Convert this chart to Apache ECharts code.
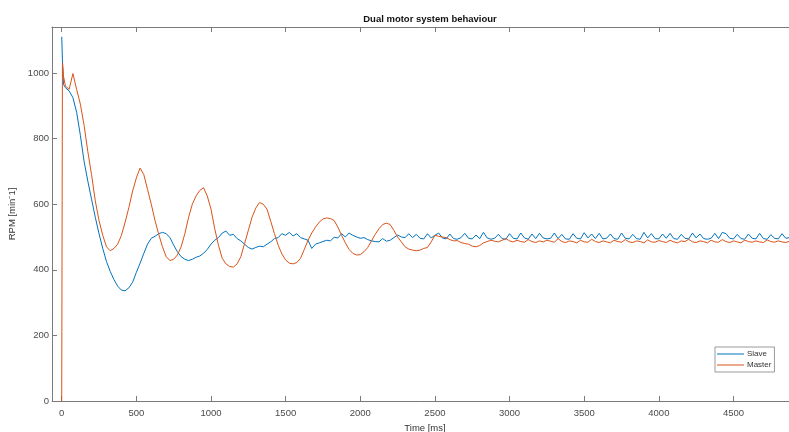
<!DOCTYPE html>
<html>
<head>
<meta charset="utf-8">
<script src="https://cdn.jsdelivr.net/npm/echarts@6/dist/echarts.min.js"></script>
<style>html,body{margin:0;padding:0;background:#fff}#c{width:789px;height:432px}</style>
</head>
<body>
<div id="c"></div>
<script>
// ---- data ----
// time samples [ms]: 0, 5, 12, then every 25 ms up to 4875
const time = [0, 5, 12];
for (let t = 25; t <= 4875; t += 25) time.push(t);

const slave = [
  1110, 1040, 965,
  // 25..500
  955, 945, 925, 880, 810, 730, 670, 615, 560, 510, 465, 425, 395, 370, 350, 338, 336, 345, 362, 392,
  // 525..1000
  420, 450, 478, 496, 502, 510, 514, 510, 498, 475, 455, 440, 432, 428, 432, 438, 442, 450, 462, 478,
  // 1025..1500
  490, 498, 512, 518, 505, 508, 495, 488, 478, 468, 463, 468, 472, 470, 478, 485, 495, 498, 510, 505,
  // 1525..2000
  514, 503, 510, 498, 494, 490, 465, 478, 482, 486, 490, 488, 499, 497, 510, 500, 512, 505, 500, 496,
  // 2025..2500
  498, 492, 488, 486, 485, 495, 487, 490, 498, 506, 500, 498, 510, 498, 508, 496, 494, 510, 497, 505,
  // 2525..3000
  512, 497, 494, 509, 495, 493, 498, 511, 496, 494, 506, 495, 514, 497, 493, 496, 508, 495, 493, 510,
  // 3025..3500
  496, 494, 512, 497, 493, 509, 495, 511, 497, 494, 496, 512, 495, 508, 494, 493, 510, 496, 494, 513,
  // 3525..4000
  497, 509, 495, 511, 494, 496, 509, 495, 493, 512, 496, 494, 508, 495, 493, 514, 497, 510, 495, 494,
  // 4025..4500
  509, 496, 511, 495, 493, 508, 496, 494, 512, 497, 509, 495, 493, 496, 511, 495, 514, 510, 496, 494,
  // 4525..4875
  508, 495, 493, 509, 496, 494, 511, 495, 493, 507, 496, 494, 510, 496, 498
];

const master = [
  0, 1030, 990,
  // 25..500
  960, 950, 998, 950, 905, 840, 760, 690, 610, 550, 505, 470, 458, 465, 478, 505, 545, 590, 640, 680,
  // 525..1000
  710, 690, 645, 600, 550, 508, 470, 440, 428, 432, 445, 470, 510, 560, 600, 625, 642, 650, 625, 585,
  // 1025..1500
  525, 475, 435, 418, 410, 408, 418, 440, 480, 520, 560, 588, 605, 600, 585, 548, 510, 475, 448, 430,
  // 1525..2000
  420, 418, 422, 435, 462, 490, 512, 530, 545, 555, 558, 556, 550, 530, 505, 482, 462, 450, 445, 446,
  // 2025..2500
  455, 468, 488, 508, 525, 538, 542, 538, 520, 500, 485, 470, 463, 460, 458, 460, 465, 468, 485, 505,
  // 2525..3000
  502, 500, 498, 492, 488, 489, 483, 480, 478, 472, 470, 474, 482, 486, 490, 487, 485, 490, 495, 488,
  // 3025..3500
  485, 490, 486, 484, 492, 486, 483, 488, 485, 490, 487, 484, 495, 486, 483, 488, 486, 482, 490, 485,
  // 3525..4000
  484, 493, 486, 483, 488, 485, 482, 490, 486, 484, 492, 485, 483, 488, 486, 482, 491, 485, 484, 489,
  // 4025..4500
  486, 483, 490, 485, 482, 488, 486, 493, 485, 483, 488, 486, 482, 490, 485, 484, 492, 486, 483, 488,
  // 4525..4875
  485, 482, 490, 486, 484, 488, 485, 483, 491, 486, 484, 488, 485, 483, 487
];

const xTicks = [0, 500, 1000, 1500, 2000, 2500, 3000, 3500, 4000, 4500];
const yTicks = [0, 200, 400, 600, 800, 1000];

const seriesNames = ['Slave', 'Master'];
const seriesColors = ['#0072BD', '#D95319'];

// ---- chart ----
const chart = echarts.init(document.getElementById('c'), null, {renderer: 'canvas'});
const pairs = arr => time.map((t, i) => [t, arr[i]]);
const font = '"Liberation Sans", Arial, sans-serif';
const axisCol = '#7a7a7a';
const labCol = '#4a4a4a';
const plain = v => String(v);

chart.setOption({
  animation: false,
  backgroundColor: '#ffffff',
  title: {
    text: 'Dual motor system behaviour',
    left: 425, top: 9, textAlign: 'center',
    textStyle: {fontFamily: font, fontSize: 9.5, fontWeight: 'bold', color: '#111'}
  },
  legend: {
    orient: 'vertical',
    left: 715, top: 347,
    data: seriesNames,
    icon: 'rect',
    itemWidth: 27, itemHeight: 1,
    itemGap: 3,
    padding: [3, 3, 3, 2],
    borderColor: '#9a9a9a', borderWidth: 1,
    backgroundColor: '#fff',
    textStyle: {fontFamily: font, fontSize: 8, color: '#333', padding: [0, 0, 0, -2]}
  },
  grid: {left: 52, right: -9, top: 27, bottom: 31, containLabel: false, outerBoundsMode: 'none'},
  xAxis: [{
    type: 'value', min: -65, max: 4932,
    position: 'bottom',
    name: 'Time [ms]', nameLocation: 'middle', nameGap: 20,
    nameTextStyle: {fontFamily: font, fontSize: 9.5, color: '#333'},
    axisLine: {show: true, onZero: false, lineStyle: {color: axisCol, width: 1}},
    axisTick: {show: true, inside: true, length: 5, customValues: xTicks, lineStyle: {color: axisCol}},
    axisLabel: {customValues: xTicks, formatter: plain, fontFamily: font, fontSize: 9.5, color: labCol, margin: 7},
    splitLine: {show: false}
  }, {
    type: 'value', min: -65, max: 4932,
    position: 'top',
    axisLine: {show: true, onZero: false, lineStyle: {color: axisCol, width: 1}},
    axisTick: {show: true, inside: true, length: 5, customValues: xTicks, lineStyle: {color: axisCol}},
    axisLabel: {show: false},
    splitLine: {show: false}
  }],
  yAxis: {
    type: 'value', min: 0, max: 1140,
    name: 'RPM [min\u207B1]', nameLocation: 'middle', nameGap: 21, nameRotate: 90,
    nameTextStyle: {fontFamily: font, fontSize: 9.5, color: '#333'},
    axisLine: {show: true, onZero: false, lineStyle: {color: axisCol, width: 1}},
    axisTick: {show: true, inside: true, length: 5, customValues: yTicks, lineStyle: {color: axisCol}},
    axisLabel: {customValues: yTicks, formatter: plain, fontFamily: font, fontSize: 9.5, color: labCol, margin: 3},
    splitLine: {show: false}
  },
  series: seriesNames.map((n, k) => ({
    name: n,
    type: 'line',
    xAxisIndex: 0,
    data: pairs(k === 0 ? slave : master),
    showSymbol: false,
    symbol: 'none',
    color: seriesColors[k],
    lineStyle: {width: 1, color: seriesColors[k]},
    clip: true,
    z: 2 + k
  }))
});
</script>
</body>
</html>
